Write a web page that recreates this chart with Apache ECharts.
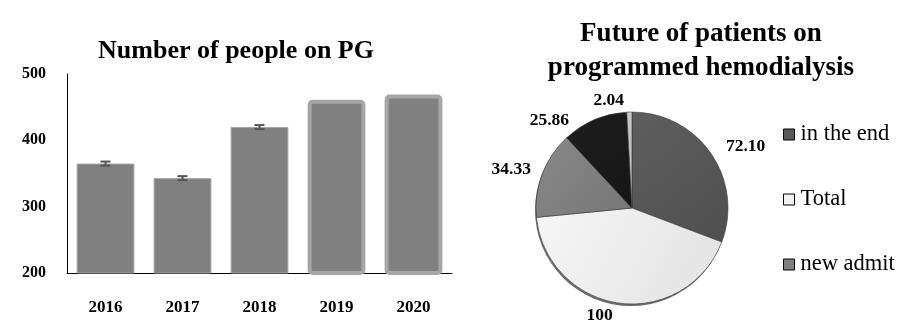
<!DOCTYPE html>
<html>
<head>
<meta charset="utf-8">
<script src="https://cdn.jsdelivr.net/npm/echarts@6/dist/echarts.min.js"></script>
<style>
  html, body { margin: 0; padding: 0; background: #fff; }
  #chart { width: 923px; height: 336px; }
</style>
</head>
<body>
<div id="chart"></div>
<script>
// bar chart data
const years = ['2016', '2017', '2018', '2019', '2020'];
const patients = [365, 343, 420, 461, 469];
const errors = [3, 3, 3, 0, 0];
const yTicks = [200, 300, 400, 500];

// pie chart data
const pieNames = ['in the end', 'Total', 'new admit', 'transferred', 'died'];
const pieValues = [72.10, 100, 34.33, 25.86, 2.04];
const legendNames = ['in the end', 'Total', 'new admit'];

const serif = '"Liberation Serif", "Times New Roman", serif';

function shade(a, b) {
    return new echarts.graphic.LinearGradient(0, 0, 1, 1, [
        { offset: 0, color: a },
        { offset: 1, color: b }
    ]);
}
const sliceColors = [
    shade('#5e5e5e', '#4f4f4f'),
    shade('#f6f6f6', '#e2e2e2'),
    shade('#888888', '#777777'),
    shade('#1e1e1e', '#151515'),
    shade('#c8c8c8', '#b8b8b8')
];
const legendColors = ['#595959', '#f2f2f2', '#808080'];

const chart = echarts.init(document.getElementById('chart'));

const barData = patients.map((v, i) => {
    const thick = i >= 3;
    return {
        value: v,
        itemStyle: thick
            ? { color: '#808080', borderColor: '#a6a6a6', borderWidth: 4, borderRadius: 3 }
            : { color: '#808080', borderColor: '#a3a3a3', borderWidth: 1 }
    };
});

const options = {
    animation: false,
    title: [
        {
            text: 'Number of people on PG',
            left: 236,
            top: 37,
            padding: 0,
            textAlign: 'center',
            textStyle: { fontFamily: serif, fontSize: 26, fontWeight: 'bold', color: '#000', lineHeight: 28 }
        },
        {
            text: 'Future of patients on\nprogrammed hemodialysis',
            left: 701,
            top: 17,
            padding: 0,
            textAlign: 'center',
            textStyle: { fontFamily: serif, fontSize: 27, fontWeight: 'bold', color: '#000', lineHeight: 34 }
        }
    ],
    grid: { left: 67, right: 471, top: 74, bottom: 63 },
    xAxis: {
        type: 'category',
        data: years,
        axisLine: { lineStyle: { color: '#000', width: 1 } },
        axisTick: { show: false },
        axisLabel: { fontFamily: serif, fontSize: 17, fontWeight: 'bold', color: '#000', margin: 26 }
    },
    yAxis: {
        type: 'value',
        min: yTicks[0],
        max: yTicks[yTicks.length - 1],
        interval: 100,
        axisLine: { show: true, lineStyle: { color: '#000', width: 1 } },
        axisTick: { show: false },
        splitLine: { show: false },
        axisLabel: { fontFamily: serif, fontSize: 16, fontWeight: 'bold', color: '#000', margin: 21, padding: [4, 0, 0, 0] }
    },
    legend: {
        orient: 'vertical',
        left: 778,
        top: 118,
        data: legendNames,
        itemWidth: 11,
        itemHeight: 11,
        itemGap: 42,
        icon: 'rect',
        itemStyle: { borderColor: '#000', borderWidth: 1 },
        textStyle: { fontFamily: serif, fontSize: 22.5, lineHeight: 22, color: '#000', padding: [0, 0, 0, 1] }
    },
    series: [
        {
            type: 'bar',
            data: barData,
            barWidth: '75%'
        },
        {
            type: 'custom',
            data: patients.map((v, i) => [i, v, errors[i]]),
            z: 5,
            renderItem: (params, api) => {
                const err = api.value(2);
                if (!err) return null;
                const hi = api.coord([api.value(0), api.value(1) + err]);
                const lo = api.coord([api.value(0), api.value(1) - err]);
                const x = hi[0];
                const w = 5;
                const style = { stroke: '#555555', lineWidth: 2 };
                return {
                    type: 'group',
                    children: [
                        { type: 'line', shape: { x1: x, y1: hi[1], x2: x, y2: lo[1] }, style },
                        { type: 'line', shape: { x1: x - w, y1: hi[1], x2: x + w, y2: hi[1] }, style },
                        { type: 'line', shape: { x1: x - w, y1: lo[1], x2: x + w, y2: lo[1] }, style }
                    ]
                };
            }
        },
        {
            // drop shadow under the pie
            type: 'pie',
            silent: true,
            center: [631, 210],
            radius: 96,
            z: 1,
            label: { show: false },
            labelLine: { show: false },
            data: [{ value: 1, name: '', itemStyle: { color: '#6a6a6a' } }],
            legendHoverLink: false
        },
        {
            type: 'pie',
            center: [632, 208],
            radius: 96,
            startAngle: 90,
            clockwise: true,
            z: 3,
            itemStyle: { borderColor: '#3a3a3a', borderWidth: 0.6 },
            label: {
                show: true,
                position: 'outside',
                fontFamily: serif,
                fontSize: 17.5,
                fontWeight: 'bold',
                color: '#000',
                formatter: (p) => Number.isInteger(p.value) ? String(p.value) : p.value.toFixed(2)
            },
            labelLine: { show: false, length: 12, length2: 0 },
            data: pieNames.map((n, i) => ({ name: n, value: pieValues[i], itemStyle: { color: sliceColors[i] } }))
        }
    ]
};

// legend swatch colours follow the flat slice shades
options.legend.data = legendNames.map((n, i) => ({ name: n, itemStyle: { color: legendColors[i] } }));

chart.setOption(options);
</script>
</body>
</html>
